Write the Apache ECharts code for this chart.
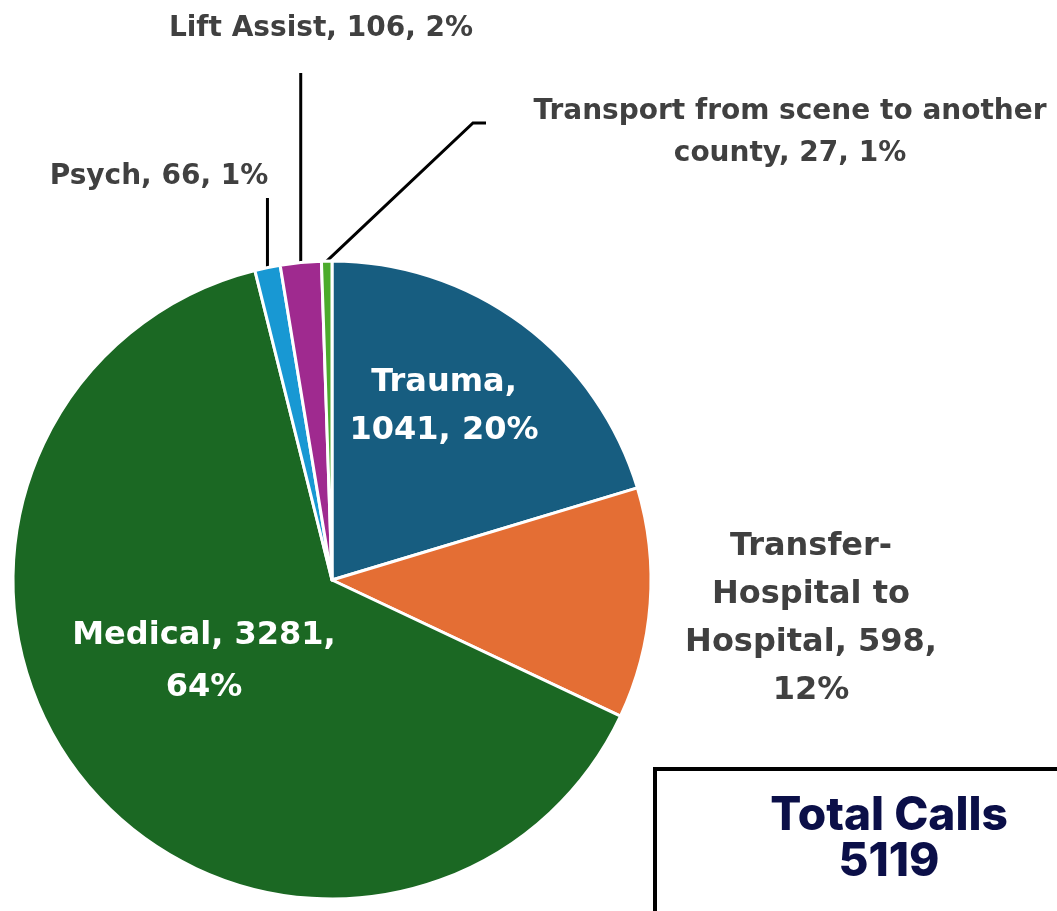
<!DOCTYPE html>
<html lang="en">
<head>
    <meta charset="utf-8">
    <title>Total Calls</title>
    <script src="https://cdn.jsdelivr.net/npm/echarts@6/dist/echarts.min.js"></script>
    <style>
        html, body, #chart {
            width: 100%; height: 100%; margin: 0; padding: 0; overflow: hidden; background-color: #ffffff;
        }
    </style>
</head>
<body>
<div id="chart"></div>
<script type="text/javascript">
    var names = ['Trauma', 'Transfer-Hospital to Hospital', 'Medical', 'Psych', 'Lift Assist', 'Transport from scene to another county'];
    var calls = [1041, 598, 3281, 66, 106, 27];
    var colors = ['#175d80', '#e46e34', '#1b6823', '#1898d3', '#9f2a8f', '#4cab2c'];

    //where each label sits, and how it wraps
    var labelPos = {
        'Trauma': {x: 444, y: 407, inside: true, wrap: 9, size: 32},
        'Transfer-Hospital to Hospital': {x: 811, y: 619, wrap: 14, size: 32, noLine: true},
        'Medical': {x: 204, y: 662, inside: true, wrap: 14, size: 32, lh: 52},
        'Psych': {x: 159, y: 177, wrap: 40, size: 28, top: 198},
        'Lift Assist': {x: 321, y: 29, wrap: 40, size: 28, top: 73},
        'Transport from scene to another county': {x: 790, y: 133, wrap: 31, size: 28, elbow: [473, 123], end: [486, 123]}
    };

    //greedy word wrap, hyphen also counts as a break point
    function wrap(text, max) {
        var words = text.match(/[^ -]+-?/g);
        var lines = [], cur = '';
        for (var i = 0; i < words.length; i++) {
            var w = words[i];
            var sep = (cur === '' || cur.charAt(cur.length - 1) === '-') ? '' : ' ';
            if (cur !== '' && (cur + sep + w).length > max) {
                lines.push(cur);
                cur = w;
            } else {
                cur = cur + sep + w;
            }
        }
        lines.push(cur);
        return lines.join('\n');
    }

    var total = 0;
    for (var i = 0; i < calls.length; i++) total += calls[i];

    var data = [];
    for (var i = 0; i < names.length; i++) {
        var cfg = labelPos[names[i]];
        data.push({
            name: names[i],
            value: calls[i],
            itemStyle: {color: colors[i]},
            label: {
                position: cfg.inside ? 'inside' : 'outside',
                color: cfg.inside ? '#ffffff' : '#404040',
                fontSize: cfg.size,
                lineHeight: cfg.lh || cfg.size * 1.5
            },
            labelLine: {show: !cfg.inside && !cfg.noLine}
        });
    }

    var chart = echarts.init(document.getElementById('chart'));

    var option = {
        backgroundColor: '#ffffff',
        animation: false,
        series: [
            {
                type: 'pie',
                center: [332, 580],
                radius: 319,
                startAngle: 90,
                clockwise: true,
                percentPrecision: 0,
                avoidLabelOverlap: false,
                itemStyle: {borderColor: '#ffffff', borderWidth: 3},
                label: {
                    fontFamily: 'DejaVu Sans',
                    fontWeight: 'bold',
                    formatter: function (p) {
                        return wrap(p.name + ', ' + p.value + ', ' + p.percent + '%', labelPos[p.name].wrap);
                    }
                },
                labelLine: {lineStyle: {color: '#000000', width: 3}},
                labelLayout: function (p) {
                    var cfg = labelPos[names[p.dataIndex]];
                    var out = {x: cfg.x, y: cfg.y, align: 'center', verticalAlign: 'middle'};
                    if (p.labelLinePoints && !cfg.inside && !cfg.noLine) {
                        var a = p.labelLinePoints[0];
                        if (cfg.elbow) {
                            out.labelLinePoints = [[a[0], a[1]], cfg.elbow, cfg.end];
                        } else {
                            out.labelLinePoints = [[a[0], a[1]], [a[0], cfg.top], [a[0], cfg.top]];
                        }
                    }
                    return out;
                },
                data: data
            }
        ],
        graphic: [
            {
                type: 'rect',
                shape: {x: 655, y: 769, width: 480, height: 200},
                style: {fill: 'none', stroke: '#000000', lineWidth: 4}
            },
            {
                type: 'text',
                x: 889,
                y: 839,
                style: {
                    text: 'Total Calls\n' + total,
                    align: 'center',
                    verticalAlign: 'middle',
                    fill: '#0b0f48',
                    fontFamily: 'Inter',
                    fontWeight: 800,
                    fontSize: 46,
                    lineHeight: 46
                }
            }
        ]
    };

    chart.setOption(option);
</script>
</body>
</html>
